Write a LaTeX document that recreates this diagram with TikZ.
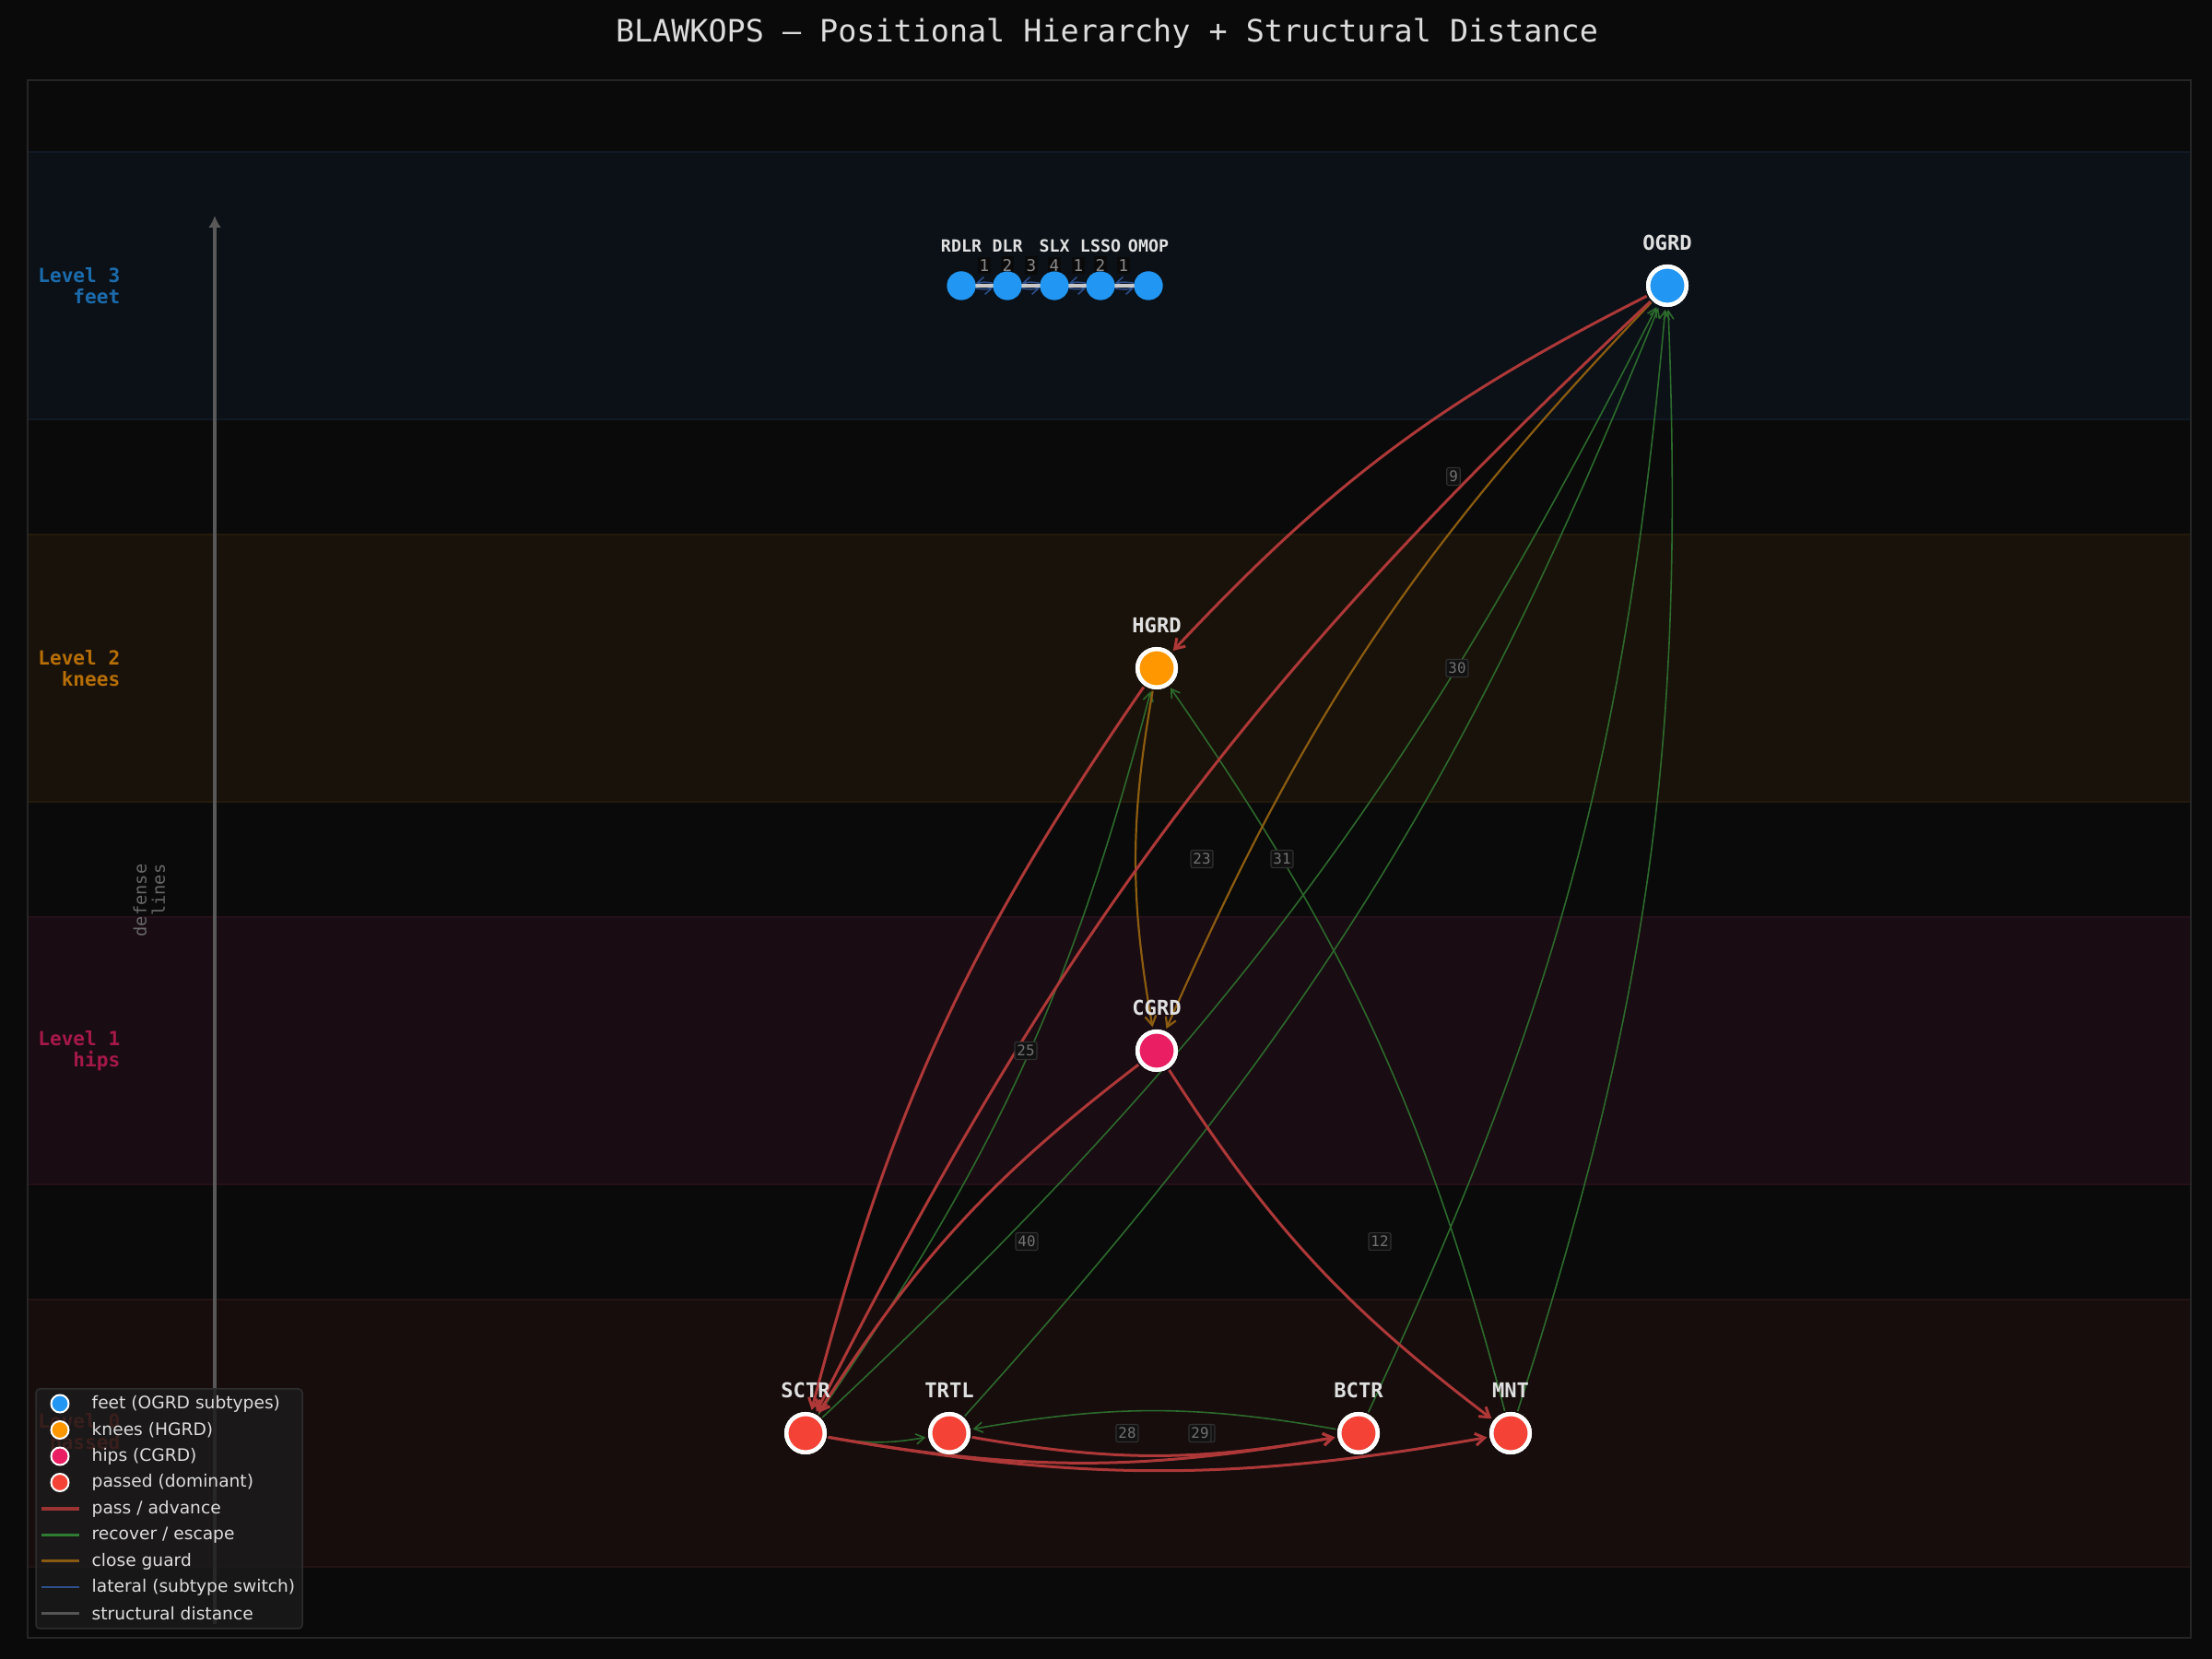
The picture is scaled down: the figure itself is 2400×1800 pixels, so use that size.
\documentclass[tikz,border=0pt]{standalone}
\usepackage{fontspec}
\setmainfont{DejaVu Sans}
\setmonofont{DejaVu Sans Mono}
\usetikzlibrary{arrows.meta}

\definecolor{bgc}{HTML}{0A0A0A}
\definecolor{framec}{HTML}{262626}
\definecolor{bandA}{HTML}{0B1117}
\definecolor{bandAe}{HTML}{111A24}
\definecolor{bandB}{HTML}{19120A}
\definecolor{bandBe}{HTML}{241A0C}
\definecolor{bandC}{HTML}{190C12}
\definecolor{bandCe}{HTML}{25101A}
\definecolor{bandD}{HTML}{170D0D}
\definecolor{bandDe}{HTML}{231313}
\definecolor{titlec}{HTML}{DDDDDD}
\definecolor{labc}{HTML}{E0E0E0}
\definecolor{lvA}{HTML}{1C6CAD}
\definecolor{lvB}{HTML}{B66E05}
\definecolor{lvC}{HTML}{A61848}
\definecolor{lvD}{HTML}{AE3229}
\definecolor{axisc}{HTML}{585858}
\definecolor{deftc}{HTML}{686868}
\definecolor{feetc}{HTML}{2196F3}
\definecolor{kneec}{HTML}{FF9800}
\definecolor{hipc}{HTML}{E91E63}
\definecolor{passdc}{HTML}{F44336}
\definecolor{passc}{HTML}{AE3838}
\definecolor{recc}{HTML}{2C6A2C}
\definecolor{closec}{HTML}{8C5C10}
\definecolor{latc}{HTML}{2D4F8C}
\definecolor{subl}{HTML}{C8C8C8}
\definecolor{elbord}{HTML}{303030}
\definecolor{elfill}{HTML}{111111}
\definecolor{eltext}{HTML}{727272}
\definecolor{snfill}{HTML}{0A0A0A}
\definecolor{sntext}{HTML}{8A8A8A}
\definecolor{legfill}{HTML}{1B1B1B}
\definecolor{legbord}{HTML}{2E2E2E}
\definecolor{legtext}{HTML}{DDDDDD}
\definecolor{lgpass}{HTML}{9C3333}
\definecolor{lgrec}{HTML}{2E7D32}
\definecolor{lgclose}{HTML}{8B5A12}
\definecolor{lglat}{HTML}{2D4F8C}
\definecolor{lgstr}{HTML}{555555}

\newcommand\ttlfont{\ttfamily\fontsize{9.5}{11}\selectfont}
\newcommand\ndfont{\ttfamily\bfseries\fontsize{6.3}{7}\selectfont}
\newcommand\lvfont{\ttfamily\bfseries\fontsize{6}{6.5}\selectfont}
\newcommand\sbfont{\ttfamily\bfseries\fontsize{5.2}{6}\selectfont}
\newcommand\snfont{\ttfamily\fontsize{5}{6}\selectfont}
\newcommand\elfont{\ttfamily\fontsize{4.5}{5}\selectfont}
\newcommand\lgfont{\fontsize{5.3}{6}\selectfont}
\newcommand\dffont{\ttfamily\fontsize{5.3}{5.7}\selectfont}

\tikzset{
  mainnode/.style={circle, draw=white, line width=0.045cm, minimum size=0.415cm, inner sep=0pt},
  subnode/.style={circle, fill=feetc, minimum size=0.31cm, inner sep=0pt},
  nlabel/.style={text=labc, font=\ndfont, inner sep=0pt},
  slabel/.style={text=labc, font=\sbfont, inner sep=0pt},
  passE/.style={draw=passc, line width=0.03cm, -{Straight Barb[length=0.1cm,width=0.13cm]}, shorten >=0.03cm, shorten <=0.02cm},
  recE/.style={draw=recc, line width=0.016cm, -{Straight Barb[length=0.09cm,width=0.11cm]}, shorten >=0.03cm, shorten <=0.02cm},
  closeE/.style={draw=closec, line width=0.022cm, -{Straight Barb[length=0.1cm,width=0.12cm]}, shorten >=0.03cm, shorten <=0.02cm},
  latE/.style={draw=latc, line width=0.015cm, -{Straight Barb[length=0.08cm,width=0.1cm]}},
  elab/.style={draw=elbord, line width=0.012cm, fill=elfill, rounded corners=0.02cm, text=eltext, font=\elfont, inner xsep=0.025cm, inner ysep=0.035cm},
  snum/.style={fill=snfill, fill opacity=0.9, text opacity=1, text=sntext, font=\snfont, inner xsep=0.015cm, inner ysep=0.03cm},
  lvlab/.style={anchor=east, align=right, font=\lvfont, inner sep=0pt},
  legmark/.style={circle, draw=white, line width=0.02cm, minimum size=0.19cm, inner sep=0pt},
  legtxt/.style={anchor=west, text=legtext, font=\lgfont, inner sep=0pt},
}

\begin{document}
\begin{tikzpicture}[x=0.01cm,y=0.01cm]
\fill[bgc] (0,0) rectangle (2400,1800);
\useasboundingbox (0,0) rectangle (2400,1800);

% level bands
\fill[bandA] (30,1345) rectangle (2377,1635);
\draw[bandAe, line width=0.012cm] (30,1345) -- (2377,1345) (30,1635) -- (2377,1635);
\fill[bandB] (30,930) rectangle (2377,1220);
\draw[bandBe, line width=0.012cm] (30,930) -- (2377,930) (30,1220) -- (2377,1220);
\fill[bandC] (30,515) rectangle (2377,805);
\draw[bandCe, line width=0.012cm] (30,515) -- (2377,515) (30,805) -- (2377,805);
\fill[bandD] (30,100) rectangle (2377,390);
\draw[bandDe, line width=0.012cm] (30,100) -- (2377,100) (30,390) -- (2377,390);
\draw[framec, line width=0.02cm] (30,23) rectangle (2377,1713);

% title
\node[text=titlec, font=\ttlfont, inner sep=0pt] (title) at (1201,1764) {BLAWKOPS — Positional Hierarchy + Structural Distance};

% level labels
\node[lvlab, text=lvA] (lv3) at (131,1490) {Level 3\\feet};
\node[lvlab, text=lvB] (lv2) at (131,1075) {Level 2\\knees};
\node[lvlab, text=lvC] (lv1) at (131,660) {Level 1\\hips};
\node[lvlab, text=lvD] (lv0) at (131,245) {Level 0\\passed};

% defense axis
\coordinate (axb) at (233,38);
\coordinate (axt) at (233,1566);
\draw[axisc, line width=0.045cm, -{Latex[length=0.13cm,width=0.14cm]}] (axb) -- (axt);
\node[rotate=90, align=right, text=deftc, font=\dffont, inner sep=0pt] (deflab) at (162,823) {defense\\lines};

% nodes
\node[mainnode, fill=feetc] (OGRD) at (1809,1490) {};
\node[mainnode, fill=kneec] (HGRD) at (1255,1075) {};
\node[mainnode, fill=hipc] (CGRD) at (1255,660) {};
\node[mainnode, fill=passdc] (SCTR) at (874,245) {};
\node[mainnode, fill=passdc] (TRTL) at (1030,245) {};
\node[mainnode, fill=passdc] (BCTR) at (1474,245) {};
\node[mainnode, fill=passdc] (MNT) at (1639,245) {};

\node[subnode] (RDLR) at (1043,1490) {};
\node[subnode] (DLR) at (1093,1490) {};
\node[subnode] (SLX) at (1144,1490) {};
\node[subnode] (LSSO) at (1194,1490) {};
\node[subnode] (OMOP) at (1246,1490) {};

% subtype connections
\draw[latE] (RDLR) to[bend right=10] (DLR);
\draw[latE] (DLR) to[bend right=10] (RDLR);
\draw[latE] (DLR) to[bend right=10] (SLX);
\draw[latE] (SLX) to[bend right=10] (DLR);
\draw[latE] (SLX) to[bend right=10] (LSSO);
\draw[latE] (LSSO) to[bend right=10] (SLX);
\draw[latE] (LSSO) to[bend right=10] (OMOP);
\draw[latE] (OMOP) to[bend right=10] (LSSO);
\draw[subl, line width=0.032cm] (RDLR.center) -- (DLR.center) -- (SLX.center) -- (LSSO.center) -- (OMOP.center);

% recover / escape edges
\draw[recE] (SCTR) to[bend right=10] (TRTL);
\draw[recE] (BCTR) to[bend right=10] (TRTL);
\draw[recE] (SCTR) to[bend right=10] (HGRD);
\draw[recE] (MNT) to[bend right=10] (HGRD);
\draw[recE] (SCTR) to[bend right=10] (OGRD);
\draw[recE] (TRTL) to[bend right=10] (OGRD);
\draw[recE] (BCTR) to[bend right=10] (OGRD);
\draw[recE] (MNT) to[bend right=10] (OGRD);

% close guard edges
\draw[closeE] (HGRD) to[bend right=10] (CGRD);
\draw[closeE] (OGRD) to[bend right=10] (CGRD);

% pass / advance edges
\draw[passE] (OGRD) to[bend right=10] (HGRD);
\draw[passE] (OGRD) to[bend right=10] (SCTR);
\draw[passE] (HGRD) to[bend right=10] (SCTR);
\draw[passE] (CGRD) to[bend right=10] (SCTR);
\draw[passE] (CGRD) to[bend right=10] (MNT);
\draw[passE] (SCTR) to[bend right=10] (BCTR);
\draw[passE] (SCTR) to[bend right=10] (MNT);
\draw[passE] (TRTL) to[bend right=10] (BCTR);

% structural distance labels
\node[elab] (l9) at (1577,1283) {9};
\node[elab] (l30) at (1581,1075) {30};
\node[elab] (l23) at (1304,868) {23};
\node[elab] (l31) at (1391,868) {31};
\node[elab] (l25) at (1113,660) {25};
\node[elab] (l40) at (1114,453) {40};
\node[elab] (l12) at (1497,453) {12};
\node[elab] (l28) at (1223,245) {28};
\node[elab] (l29b) at (1306,245) {\phantom{29}};
\node[elab] (l29) at (1302,245) {29};

\node[snum] (s1) at (1068,1512) {1};
\node[snum] (s2) at (1093,1512) {2};
\node[snum] (s3) at (1119,1512) {3};
\node[snum] (s4) at (1144,1512) {4};
\node[snum] (s5) at (1170,1512) {1};
\node[snum] (s6) at (1194,1512) {2};
\node[snum] (s7) at (1219,1512) {1};

% redraw nodes on top
\node[mainnode, fill=feetc] (OGRDt) at (1809,1490) {};
\node[mainnode, fill=kneec] (HGRDt) at (1255,1075) {};
\node[mainnode, fill=hipc] (CGRDt) at (1255,660) {};
\node[mainnode, fill=passdc] (SCTRt) at (874,245) {};
\node[mainnode, fill=passdc] (TRTLt) at (1030,245) {};
\node[mainnode, fill=passdc] (BCTRt) at (1474,245) {};
\node[mainnode, fill=passdc] (MNTt) at (1639,245) {};
\node[subnode] (RDLRt) at (1043,1490) {};
\node[subnode] (DLRt) at (1093,1490) {};
\node[subnode] (SLXt) at (1144,1490) {};
\node[subnode] (LSSOt) at (1194,1490) {};
\node[subnode] (OMOPt) at (1246,1490) {};

% node labels
\node[nlabel] (OGRDl) at (1809,1537) {OGRD};
\node[nlabel] (HGRDl) at (1255,1122) {HGRD};
\node[nlabel] (CGRDl) at (1255,707) {CGRD};
\node[nlabel] (SCTRl) at (874,292) {SCTR};
\node[nlabel] (TRTLl) at (1030,292) {TRTL};
\node[nlabel] (BCTRl) at (1474,292) {BCTR};
\node[nlabel] (MNTl) at (1639,292) {MNT};
\node[slabel] (RDLRl) at (1043,1533) {RDLR};
\node[slabel] (DLRl) at (1093,1533) {DLR};
\node[slabel] (SLXl) at (1144,1533) {SLX};
\node[slabel] (LSSOl) at (1194,1533) {LSSO};
\node[slabel] (OMOPl) at (1246,1533) {OMOP};

% legend
\fill[legfill, opacity=0.8, rounded corners=0.04cm] (39,33) rectangle (328,293);
\draw[legbord, line width=0.015cm, rounded corners=0.04cm] (39,33) rectangle (328,293);
\node[legmark, fill=feetc] (lm1) at (65,277) {};
\node[legtxt] (lt1) at (99,277) {feet (OGRD subtypes)};
\node[legmark, fill=kneec] (lm2) at (65,248.5) {};
\node[legtxt] (lt2) at (99,248.5) {knees (HGRD)};
\node[legmark, fill=hipc] (lm3) at (65,220) {};
\node[legtxt] (lt3) at (99,220) {hips (CGRD)};
\node[legmark, fill=passdc] (lm4) at (65,191.5) {};
\node[legtxt] (lt4) at (99,191.5) {passed (dominant)};
\coordinate (la5) at (45,163); \coordinate (lb5) at (86,163);
\draw[lgpass, line width=0.033cm] (la5) -- (lb5);
\node[legtxt] (lt5) at (99,163) {pass / advance};
\coordinate (la6) at (45,134.5); \coordinate (lb6) at (86,134.5);
\draw[lgrec, line width=0.023cm] (la6) -- (lb6);
\node[legtxt] (lt6) at (99,134.5) {recover / escape};
\coordinate (la7) at (45,106); \coordinate (lb7) at (86,106);
\draw[lgclose, line width=0.03cm] (la7) -- (lb7);
\node[legtxt] (lt7) at (99,106) {close guard};
\coordinate (la8) at (45,78); \coordinate (lb8) at (86,78);
\draw[lglat, line width=0.023cm] (la8) -- (lb8);
\node[legtxt] (lt8) at (99,78) {lateral (subtype switch)};
\coordinate (la9) at (45,49.5); \coordinate (lb9) at (86,49.5);
\draw[lgstr, line width=0.033cm] (la9) -- (lb9);
\node[legtxt] (lt9) at (99,49.5) {structural distance};
\end{tikzpicture}
\end{document}
